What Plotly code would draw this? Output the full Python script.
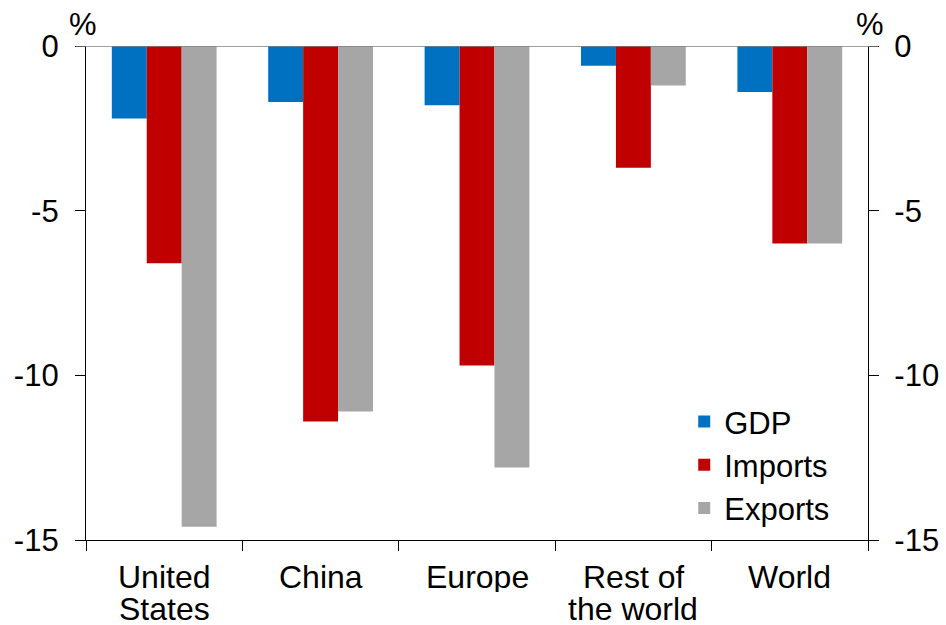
import plotly.graph_objects as go

categories = ["United<br>States", "China", "Europe", "Rest of<br>the world", "World"]
gdp = [-2.2, -1.7, -1.8, -0.6, -1.4]
imports = [-6.6, -11.4, -9.7, -3.7, -6.0]
exports = [-14.6, -11.1, -12.8, -1.2, -6.0]
tick_vals = [0, -5, -10, -15]
tick_text = ["0", "-5", "-10", "-15"]

FONT = "Liberation Sans, Arial, sans-serif"
FS = 31
FS_CAT = 32

fig = go.Figure()
fig.add_trace(go.Bar(x=categories, y=gdp, name="GDP", marker=dict(color="#0070C0", line=dict(width=0))))
fig.add_trace(go.Bar(x=categories, y=imports, name="Imports", marker=dict(color="#C00000", line=dict(width=0))))
fig.add_trace(go.Bar(x=categories, y=exports, name="Exports", marker=dict(color="#A6A6A6", line=dict(width=0))))
# invisible trace to anchor right axis
fig.add_trace(go.Scatter(x=categories, y=[None]*5, yaxis="y2", showlegend=False, hoverinfo="skip"))

fig.update_layout(
    width=946, height=625,
    margin=dict(l=86, r=78, t=46, b=85),
    paper_bgcolor="white", plot_bgcolor="white",
    barmode="group", bargap=0.33, bargroupgap=0,
    font=dict(family=FONT, size=FS, color="black"),
    showlegend=True,
    legend=dict(x=0.765, y=0.294, xanchor="left", yanchor="top",
                font=dict(size=FS), bgcolor="rgba(0,0,0,0)",
                tracegroupgap=0, itemwidth=30),
    xaxis=dict(showline=True, linecolor="black", linewidth=1.3,
               ticks="outside", tickson="boundaries", ticklen=10, tickcolor="black",
               showticklabels=False, showgrid=False, zeroline=False, automargin=False),
    yaxis=dict(range=[-15, 0], tickvals=tick_vals, ticktext=tick_text,
               showline=True, linecolor="black", linewidth=1.3,
               ticks="outside", ticklen=10, tickcolor="black",
               showgrid=False, zeroline=False, tickfont=dict(size=FS),
               ticklabelstandoff=10, automargin=False),
    yaxis2=dict(range=[-15, 0], tickvals=tick_vals, ticktext=tick_text,
                overlaying="y", side="right",
                showline=True, linecolor="black", linewidth=1.3,
                ticks="outside", ticklen=10, tickcolor="black",
                showgrid=False, zeroline=False, tickfont=dict(size=FS),
                ticklabelstandoff=9, automargin=False),
)

# category labels, one annotation per text line (tight line spacing as in reference)
for cat in categories:
    lines = cat.split("<br>")
    for i, line in enumerate(lines):
        fig.add_annotation(text=line, x=cat, xref="x", yref="paper", y=0,
                           xanchor="center", yanchor="middle", showarrow=False,
                           height=30, valign="middle",
                           font=dict(size=FS_CAT), yshift=-37 - 32 * i)

# zero line at top (gray), extended like ticks
fig.add_shape(type="line", xref="paper", yref="y", x0=-10/782, x1=1+10/782, y0=0, y1=0,
              line=dict(color="#808080", width=1.5), layer="above")

fig.add_annotation(text="%", xref="paper", yref="paper", x=-3/782, y=1, xanchor="center", yanchor="bottom",
                   showarrow=False, font=dict(size=FS), yshift=2)
fig.add_annotation(text="%", xref="paper", yref="paper", x=1+2/782, y=1, xanchor="center", yanchor="bottom",
                   showarrow=False, font=dict(size=FS), yshift=2)

fig.write_html("out.html")
